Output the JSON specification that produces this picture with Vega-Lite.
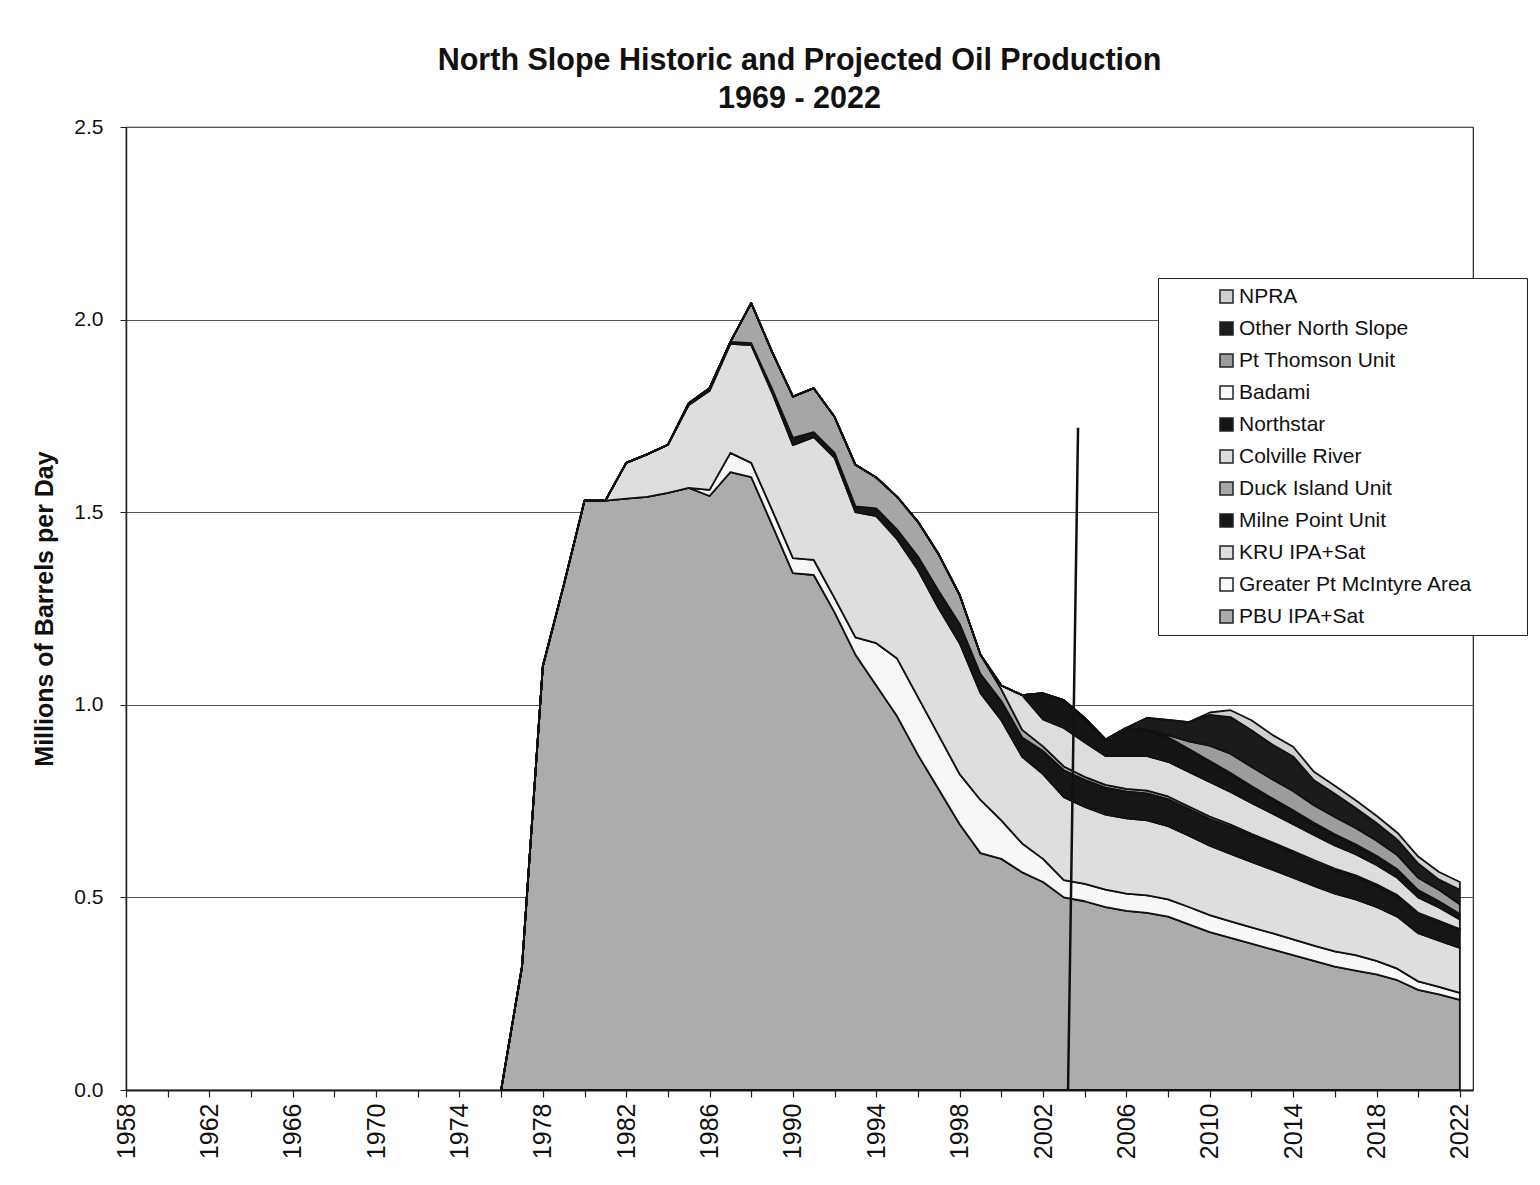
{
  "$schema": "https://vega.github.io/schema/vega-lite/v6.json",
  "width": 1347,
  "height": 963,
  "autosize": {"type": "none"},
  "padding": {"left": 126, "top": 127, "right": 67, "bottom": 95},
  "background": "#ffffff",
  "config": {
    "font": "Liberation Sans",
    "view": {"stroke": "#222222", "strokeWidth": 1.2}
  },
  "title": {
    "text": ["North Slope Historic and Projected Oil Production", "1969 - 2022"],
    "fontSize": 30.5,
    "fontWeight": "bold",
    "color": "#111111",
    "anchor": "middle",
    "lineHeight": 38,
    "offset": 2
  },
  "datasets": {
    "prod": [
      {"year": 1976, "PBU IPA+Sat": 0, "Greater Pt McIntyre Area": 0, "KRU IPA+Sat": 0, "Milne Point Unit": 0, "Duck Island Unit": 0, "Colville River": 0, "Northstar": 0, "Badami": 0, "Pt Thomson Unit": 0, "Other North Slope": 0, "NPRA": 0},
      {"year": 1977, "PBU IPA+Sat": 0.32, "Greater Pt McIntyre Area": 0, "KRU IPA+Sat": 0, "Milne Point Unit": 0, "Duck Island Unit": 0, "Colville River": 0, "Northstar": 0, "Badami": 0, "Pt Thomson Unit": 0, "Other North Slope": 0, "NPRA": 0},
      {"year": 1978, "PBU IPA+Sat": 1.10, "Greater Pt McIntyre Area": 0, "KRU IPA+Sat": 0, "Milne Point Unit": 0, "Duck Island Unit": 0, "Colville River": 0, "Northstar": 0, "Badami": 0, "Pt Thomson Unit": 0, "Other North Slope": 0, "NPRA": 0},
      {"year": 1979, "PBU IPA+Sat": 1.31, "Greater Pt McIntyre Area": 0, "KRU IPA+Sat": 0, "Milne Point Unit": 0, "Duck Island Unit": 0, "Colville River": 0, "Northstar": 0, "Badami": 0, "Pt Thomson Unit": 0, "Other North Slope": 0, "NPRA": 0},
      {"year": 1980, "PBU IPA+Sat": 1.53, "Greater Pt McIntyre Area": 0, "KRU IPA+Sat": 0, "Milne Point Unit": 0, "Duck Island Unit": 0, "Colville River": 0, "Northstar": 0, "Badami": 0, "Pt Thomson Unit": 0, "Other North Slope": 0, "NPRA": 0},
      {"year": 1981, "PBU IPA+Sat": 1.53, "Greater Pt McIntyre Area": 0, "KRU IPA+Sat": 0, "Milne Point Unit": 0, "Duck Island Unit": 0, "Colville River": 0, "Northstar": 0, "Badami": 0, "Pt Thomson Unit": 0, "Other North Slope": 0, "NPRA": 0},
      {"year": 1982, "PBU IPA+Sat": 1.535, "Greater Pt McIntyre Area": 0, "KRU IPA+Sat": 0.093, "Milne Point Unit": 0, "Duck Island Unit": 0, "Colville River": 0, "Northstar": 0, "Badami": 0, "Pt Thomson Unit": 0, "Other North Slope": 0, "NPRA": 0},
      {"year": 1983, "PBU IPA+Sat": 1.54, "Greater Pt McIntyre Area": 0, "KRU IPA+Sat": 0.11, "Milne Point Unit": 0, "Duck Island Unit": 0, "Colville River": 0, "Northstar": 0, "Badami": 0, "Pt Thomson Unit": 0, "Other North Slope": 0, "NPRA": 0},
      {"year": 1984, "PBU IPA+Sat": 1.55, "Greater Pt McIntyre Area": 0, "KRU IPA+Sat": 0.125, "Milne Point Unit": 0, "Duck Island Unit": 0, "Colville River": 0, "Northstar": 0, "Badami": 0, "Pt Thomson Unit": 0, "Other North Slope": 0, "NPRA": 0},
      {"year": 1985, "PBU IPA+Sat": 1.563, "Greater Pt McIntyre Area": 0, "KRU IPA+Sat": 0.215, "Milne Point Unit": 0.005, "Duck Island Unit": 0, "Colville River": 0, "Northstar": 0, "Badami": 0, "Pt Thomson Unit": 0, "Other North Slope": 0, "NPRA": 0},
      {"year": 1986, "PBU IPA+Sat": 1.542, "Greater Pt McIntyre Area": 0.016, "KRU IPA+Sat": 0.257, "Milne Point Unit": 0.007, "Duck Island Unit": 0, "Colville River": 0, "Northstar": 0, "Badami": 0, "Pt Thomson Unit": 0, "Other North Slope": 0, "NPRA": 0},
      {"year": 1987, "PBU IPA+Sat": 1.604, "Greater Pt McIntyre Area": 0.05, "KRU IPA+Sat": 0.283, "Milne Point Unit": 0.005, "Duck Island Unit": 0, "Colville River": 0, "Northstar": 0, "Badami": 0, "Pt Thomson Unit": 0, "Other North Slope": 0, "NPRA": 0},
      {"year": 1988, "PBU IPA+Sat": 1.591, "Greater Pt McIntyre Area": 0.037, "KRU IPA+Sat": 0.306, "Milne Point Unit": 0.005, "Duck Island Unit": 0.104, "Colville River": 0, "Northstar": 0, "Badami": 0, "Pt Thomson Unit": 0, "Other North Slope": 0, "NPRA": 0},
      {"year": 1989, "PBU IPA+Sat": 1.467, "Greater Pt McIntyre Area": 0.039, "KRU IPA+Sat": 0.304, "Milne Point Unit": 0.01, "Duck Island Unit": 0.096, "Colville River": 0, "Northstar": 0, "Badami": 0, "Pt Thomson Unit": 0, "Other North Slope": 0, "NPRA": 0},
      {"year": 1990, "PBU IPA+Sat": 1.342, "Greater Pt McIntyre Area": 0.039, "KRU IPA+Sat": 0.293, "Milne Point Unit": 0.019, "Duck Island Unit": 0.107, "Colville River": 0, "Northstar": 0, "Badami": 0, "Pt Thomson Unit": 0, "Other North Slope": 0, "NPRA": 0},
      {"year": 1991, "PBU IPA+Sat": 1.337, "Greater Pt McIntyre Area": 0.039, "KRU IPA+Sat": 0.319, "Milne Point Unit": 0.013, "Duck Island Unit": 0.114, "Colville River": 0, "Northstar": 0, "Badami": 0, "Pt Thomson Unit": 0, "Other North Slope": 0, "NPRA": 0},
      {"year": 1992, "PBU IPA+Sat": 1.24, "Greater Pt McIntyre Area": 0.037, "KRU IPA+Sat": 0.364, "Milne Point Unit": 0.013, "Duck Island Unit": 0.093, "Colville River": 0, "Northstar": 0, "Badami": 0, "Pt Thomson Unit": 0, "Other North Slope": 0, "NPRA": 0},
      {"year": 1993, "PBU IPA+Sat": 1.13, "Greater Pt McIntyre Area": 0.045, "KRU IPA+Sat": 0.325, "Milne Point Unit": 0.015, "Duck Island Unit": 0.108, "Colville River": 0, "Northstar": 0, "Badami": 0, "Pt Thomson Unit": 0, "Other North Slope": 0, "NPRA": 0},
      {"year": 1994, "PBU IPA+Sat": 1.05, "Greater Pt McIntyre Area": 0.11, "KRU IPA+Sat": 0.33, "Milne Point Unit": 0.02, "Duck Island Unit": 0.08, "Colville River": 0, "Northstar": 0, "Badami": 0, "Pt Thomson Unit": 0, "Other North Slope": 0, "NPRA": 0},
      {"year": 1995, "PBU IPA+Sat": 0.97, "Greater Pt McIntyre Area": 0.15, "KRU IPA+Sat": 0.31, "Milne Point Unit": 0.025, "Duck Island Unit": 0.085, "Colville River": 0, "Northstar": 0, "Badami": 0, "Pt Thomson Unit": 0, "Other North Slope": 0, "NPRA": 0},
      {"year": 1996, "PBU IPA+Sat": 0.87, "Greater Pt McIntyre Area": 0.15, "KRU IPA+Sat": 0.33, "Milne Point Unit": 0.035, "Duck Island Unit": 0.09, "Colville River": 0, "Northstar": 0, "Badami": 0, "Pt Thomson Unit": 0, "Other North Slope": 0, "NPRA": 0},
      {"year": 1997, "PBU IPA+Sat": 0.78, "Greater Pt McIntyre Area": 0.14, "KRU IPA+Sat": 0.33, "Milne Point Unit": 0.045, "Duck Island Unit": 0.095, "Colville River": 0, "Northstar": 0, "Badami": 0, "Pt Thomson Unit": 0, "Other North Slope": 0, "NPRA": 0},
      {"year": 1998, "PBU IPA+Sat": 0.69, "Greater Pt McIntyre Area": 0.13, "KRU IPA+Sat": 0.34, "Milne Point Unit": 0.05, "Duck Island Unit": 0.075, "Colville River": 0, "Northstar": 0, "Badami": 0, "Pt Thomson Unit": 0, "Other North Slope": 0, "NPRA": 0},
      {"year": 1999, "PBU IPA+Sat": 0.615, "Greater Pt McIntyre Area": 0.138, "KRU IPA+Sat": 0.277, "Milne Point Unit": 0.05, "Duck Island Unit": 0.05, "Colville River": 0, "Northstar": 0, "Badami": 0, "Pt Thomson Unit": 0, "Other North Slope": 0, "NPRA": 0},
      {"year": 2000, "PBU IPA+Sat": 0.60, "Greater Pt McIntyre Area": 0.10, "KRU IPA+Sat": 0.26, "Milne Point Unit": 0.05, "Duck Island Unit": 0.03, "Colville River": 0.01, "Northstar": 0, "Badami": 0, "Pt Thomson Unit": 0, "Other North Slope": 0, "NPRA": 0},
      {"year": 2001, "PBU IPA+Sat": 0.565, "Greater Pt McIntyre Area": 0.075, "KRU IPA+Sat": 0.225, "Milne Point Unit": 0.05, "Duck Island Unit": 0.02, "Colville River": 0.09, "Northstar": 0, "Badami": 0, "Pt Thomson Unit": 0, "Other North Slope": 0, "NPRA": 0},
      {"year": 2002, "PBU IPA+Sat": 0.54, "Greater Pt McIntyre Area": 0.06, "KRU IPA+Sat": 0.22, "Milne Point Unit": 0.06, "Duck Island Unit": 0.012, "Colville River": 0.07, "Northstar": 0.068, "Badami": 0, "Pt Thomson Unit": 0, "Other North Slope": 0, "NPRA": 0},
      {"year": 2003, "PBU IPA+Sat": 0.50, "Greater Pt McIntyre Area": 0.045, "KRU IPA+Sat": 0.215, "Milne Point Unit": 0.07, "Duck Island Unit": 0.01, "Colville River": 0.10, "Northstar": 0.07, "Badami": 0.002, "Pt Thomson Unit": 0, "Other North Slope": 0, "NPRA": 0},
      {"year": 2004, "PBU IPA+Sat": 0.49, "Greater Pt McIntyre Area": 0.045, "KRU IPA+Sat": 0.20, "Milne Point Unit": 0.07, "Duck Island Unit": 0.008, "Colville River": 0.09, "Northstar": 0.06, "Badami": 0.003, "Pt Thomson Unit": 0, "Other North Slope": 0, "NPRA": 0},
      {"year": 2005, "PBU IPA+Sat": 0.475, "Greater Pt McIntyre Area": 0.045, "KRU IPA+Sat": 0.195, "Milne Point Unit": 0.07, "Duck Island Unit": 0.007, "Colville River": 0.075, "Northstar": 0.04, "Badami": 0.003, "Pt Thomson Unit": 0, "Other North Slope": 0, "NPRA": 0},
      {"year": 2006, "PBU IPA+Sat": 0.465, "Greater Pt McIntyre Area": 0.045, "KRU IPA+Sat": 0.195, "Milne Point Unit": 0.07, "Duck Island Unit": 0.007, "Colville River": 0.085, "Northstar": 0.07, "Badami": 0.003, "Pt Thomson Unit": 0, "Other North Slope": 0, "NPRA": 0},
      {"year": 2007, "PBU IPA+Sat": 0.46, "Greater Pt McIntyre Area": 0.045, "KRU IPA+Sat": 0.195, "Milne Point Unit": 0.07, "Duck Island Unit": 0.007, "Colville River": 0.09, "Northstar": 0.065, "Badami": 0.004, "Pt Thomson Unit": 0, "Other North Slope": 0.03, "NPRA": 0},
      {"year": 2008, "PBU IPA+Sat": 0.45, "Greater Pt McIntyre Area": 0.045, "KRU IPA+Sat": 0.19, "Milne Point Unit": 0.07, "Duck Island Unit": 0.007, "Colville River": 0.09, "Northstar": 0.06, "Badami": 0.004, "Pt Thomson Unit": 0.005, "Other North Slope": 0.04, "NPRA": 0},
      {"year": 2009, "PBU IPA+Sat": 0.43, "Greater Pt McIntyre Area": 0.045, "KRU IPA+Sat": 0.185, "Milne Point Unit": 0.07, "Duck Island Unit": 0.006, "Colville River": 0.09, "Northstar": 0.055, "Badami": 0.004, "Pt Thomson Unit": 0.02, "Other North Slope": 0.05, "NPRA": 0},
      {"year": 2010, "PBU IPA+Sat": 0.41, "Greater Pt McIntyre Area": 0.044, "KRU IPA+Sat": 0.18, "Milne Point Unit": 0.07, "Duck Island Unit": 0.006, "Colville River": 0.09, "Northstar": 0.05, "Badami": 0.004, "Pt Thomson Unit": 0.04, "Other North Slope": 0.08, "NPRA": 0.006},
      {"year": 2011, "PBU IPA+Sat": 0.395, "Greater Pt McIntyre Area": 0.043, "KRU IPA+Sat": 0.175, "Milne Point Unit": 0.07, "Duck Island Unit": 0.006, "Colville River": 0.085, "Northstar": 0.045, "Badami": 0.004, "Pt Thomson Unit": 0.05, "Other North Slope": 0.095, "NPRA": 0.018},
      {"year": 2012, "PBU IPA+Sat": 0.38, "Greater Pt McIntyre Area": 0.042, "KRU IPA+Sat": 0.17, "Milne Point Unit": 0.068, "Duck Island Unit": 0.005, "Colville River": 0.08, "Northstar": 0.04, "Badami": 0.004, "Pt Thomson Unit": 0.05, "Other North Slope": 0.095, "NPRA": 0.026},
      {"year": 2013, "PBU IPA+Sat": 0.365, "Greater Pt McIntyre Area": 0.042, "KRU IPA+Sat": 0.165, "Milne Point Unit": 0.066, "Duck Island Unit": 0.005, "Colville River": 0.075, "Northstar": 0.035, "Badami": 0.004, "Pt Thomson Unit": 0.05, "Other North Slope": 0.09, "NPRA": 0.025},
      {"year": 2014, "PBU IPA+Sat": 0.35, "Greater Pt McIntyre Area": 0.041, "KRU IPA+Sat": 0.16, "Milne Point Unit": 0.064, "Duck Island Unit": 0.005, "Colville River": 0.07, "Northstar": 0.032, "Badami": 0.004, "Pt Thomson Unit": 0.05, "Other North Slope": 0.09, "NPRA": 0.025},
      {"year": 2015, "PBU IPA+Sat": 0.335, "Greater Pt McIntyre Area": 0.04, "KRU IPA+Sat": 0.155, "Milne Point Unit": 0.062, "Duck Island Unit": 0.005, "Colville River": 0.065, "Northstar": 0.028, "Badami": 0.004, "Pt Thomson Unit": 0.045, "Other North Slope": 0.065, "NPRA": 0.022},
      {"year": 2016, "PBU IPA+Sat": 0.32, "Greater Pt McIntyre Area": 0.04, "KRU IPA+Sat": 0.15, "Milne Point Unit": 0.06, "Duck Island Unit": 0.005, "Colville River": 0.06, "Northstar": 0.025, "Badami": 0.004, "Pt Thomson Unit": 0.045, "Other North Slope": 0.06, "NPRA": 0.021},
      {"year": 2017, "PBU IPA+Sat": 0.31, "Greater Pt McIntyre Area": 0.04, "KRU IPA+Sat": 0.145, "Milne Point Unit": 0.058, "Duck Island Unit": 0.004, "Colville River": 0.055, "Northstar": 0.022, "Badami": 0.004, "Pt Thomson Unit": 0.042, "Other North Slope": 0.052, "NPRA": 0.02},
      {"year": 2018, "PBU IPA+Sat": 0.30, "Greater Pt McIntyre Area": 0.035, "KRU IPA+Sat": 0.14, "Milne Point Unit": 0.055, "Duck Island Unit": 0.004, "Colville River": 0.05, "Northstar": 0.02, "Badami": 0.004, "Pt Thomson Unit": 0.04, "Other North Slope": 0.045, "NPRA": 0.019},
      {"year": 2019, "PBU IPA+Sat": 0.285, "Greater Pt McIntyre Area": 0.03, "KRU IPA+Sat": 0.135, "Milne Point Unit": 0.052, "Duck Island Unit": 0.004, "Colville River": 0.045, "Northstar": 0.018, "Badami": 0.004, "Pt Thomson Unit": 0.037, "Other North Slope": 0.04, "NPRA": 0.018},
      {"year": 2020, "PBU IPA+Sat": 0.26, "Greater Pt McIntyre Area": 0.022, "KRU IPA+Sat": 0.125, "Milne Point Unit": 0.05, "Duck Island Unit": 0.003, "Colville River": 0.04, "Northstar": 0.015, "Badami": 0.004, "Pt Thomson Unit": 0.032, "Other North Slope": 0.037, "NPRA": 0.018},
      {"year": 2021, "PBU IPA+Sat": 0.248, "Greater Pt McIntyre Area": 0.02, "KRU IPA+Sat": 0.12, "Milne Point Unit": 0.048, "Duck Island Unit": 0.003, "Colville River": 0.035, "Northstar": 0.012, "Badami": 0.004, "Pt Thomson Unit": 0.03, "Other North Slope": 0.026, "NPRA": 0.02},
      {"year": 2022, "PBU IPA+Sat": 0.234, "Greater Pt McIntyre Area": 0.018, "KRU IPA+Sat": 0.117, "Milne Point Unit": 0.046, "Duck Island Unit": 0.003, "Colville River": 0.025, "Northstar": 0.01, "Badami": 0.004, "Pt Thomson Unit": 0.025, "Other North Slope": 0.038, "NPRA": 0.02}
    ],
    "seriesinfo": [
      {"series": "PBU IPA+Sat", "rank": 1},
      {"series": "Greater Pt McIntyre Area", "rank": 2},
      {"series": "KRU IPA+Sat", "rank": 3},
      {"series": "Milne Point Unit", "rank": 4},
      {"series": "Duck Island Unit", "rank": 5},
      {"series": "Colville River", "rank": 6},
      {"series": "Northstar", "rank": 7},
      {"series": "Badami", "rank": 8},
      {"series": "Pt Thomson Unit", "rank": 9},
      {"series": "Other North Slope", "rank": 10},
      {"series": "NPRA", "rank": 11}
    ],
    "separator": [
      {"xa": 2003.68, "ya": 1.719, "xb": 2003.2, "yb": 0}
    ]
  },
  "layer": [
    {
      "data": {"name": "prod"},
      "transform": [
        {"fold": ["PBU IPA+Sat", "Greater Pt McIntyre Area", "KRU IPA+Sat", "Milne Point Unit", "Duck Island Unit", "Colville River", "Northstar", "Badami", "Pt Thomson Unit", "Other North Slope", "NPRA"], "as": ["series", "mbd"]},
        {"lookup": "series", "from": {"data": {"name": "seriesinfo"}, "key": "series", "fields": ["rank"]}}
      ],
      "mark": {"type": "area", "stroke": "#111111", "strokeWidth": 1.8, "strokeJoin": "round"},
      "encoding": {
        "x": {
          "field": "year", "type": "quantitative",
          "scale": {"domain": [1958, 2022.63], "nice": false, "zero": false},
          "axis": {
            "title": null,
            "values": [1958,1959,1960,1961,1962,1963,1964,1965,1966,1967,1968,1969,1970,1971,1972,1973,1974,1975,1976,1977,1978,1979,1980,1981,1982,1983,1984,1985,1986,1987,1988,1989,1990,1991,1992,1993,1994,1995,1996,1997,1998,1999,2000,2001,2002,2003,2004,2005,2006,2007,2008,2009,2010,2011,2012,2013,2014,2015,2016,2017,2018,2019,2020,2021,2022],
            "format": "d",
            "labelExpr": "(datum.value - 1958) % 4 == 0 ? datum.label : ''",
            "labelAngle": -90,
            "labelFontSize": 25,
            "labelColor": "#111111",
            "labelPadding": 6,
            "labelOverlap": false,
            "tickSize": 7,
            "tickColor": "#222222",
            "tickWidth": 1.2,
            "domainColor": "#222222",
            "domainWidth": 2,
            "grid": false
          }
        },
        "y": {
          "field": "mbd", "type": "quantitative", "stack": "zero",
          "scale": {"domain": [0, 2.5], "nice": false},
          "axis": {
            "title": "Millions of Barrels per Day",
            "titleFontSize": 25,
            "titleFontWeight": "bold",
            "titleColor": "#111111",
            "titlePadding": 16,
            "values": [0, 0.5, 1, 1.5, 2, 2.5],
            "format": ".1f",
            "labelFontSize": 21,
            "labelColor": "#111111",
            "labelPadding": 17,
            "tickSize": 6,
            "tickColor": "#222222",
            "domainColor": "#222222",
            "domainWidth": 1.5,
            "grid": true,
            "gridColor": "#555555",
            "gridWidth": 1
          }
        },
        "color": {
          "field": "series", "type": "nominal",
          "sort": ["NPRA", "Other North Slope", "Pt Thomson Unit", "Badami", "Northstar", "Colville River", "Duck Island Unit", "Milne Point Unit", "KRU IPA+Sat", "Greater Pt McIntyre Area", "PBU IPA+Sat"],
          "scale": {
            "domain": ["NPRA", "Other North Slope", "Pt Thomson Unit", "Badami", "Northstar", "Colville River", "Duck Island Unit", "Milne Point Unit", "KRU IPA+Sat", "Greater Pt McIntyre Area", "PBU IPA+Sat"],
            "range": ["#d0d0d0", "#1b1b1b", "#9c9c9c", "#f7f7f7", "#151515", "#dddddd", "#a6a6a6", "#161616", "#dedede", "#f7f7f7", "#acacac"]
          },
          "legend": {
            "title": "\u2003",
            "titleOrient": "right",
            "titleFontSize": 20,
            "titlePadding": 47,
            "orient": "none",
            "legendX": 1032,
            "legendY": 151,
            "fillColor": "#ffffff",
            "strokeColor": "#222222",
            "padding": 8,
            "symbolType": "square",
            "symbolSize": 170,
            "symbolStrokeColor": "#222222",
            "symbolStrokeWidth": 1.5,
            "symbolOffset": 50,
            "labelFontSize": 21,
            "labelColor": "#111111",
            "labelOffset": 2,
            "labelLimit": 400,
            "rowPadding": 10
          }
        },
        "order": {"field": "rank", "type": "quantitative", "sort": "ascending"}
      }
    },
    {
      "data": {"name": "separator"},
      "mark": {"type": "rule", "color": "#111111", "strokeWidth": 2.5},
      "encoding": {
        "x": {"field": "xa", "type": "quantitative"},
        "y": {"field": "ya", "type": "quantitative"},
        "x2": {"field": "xb"},
        "y2": {"field": "yb"}
      }
    }
  ]
}
